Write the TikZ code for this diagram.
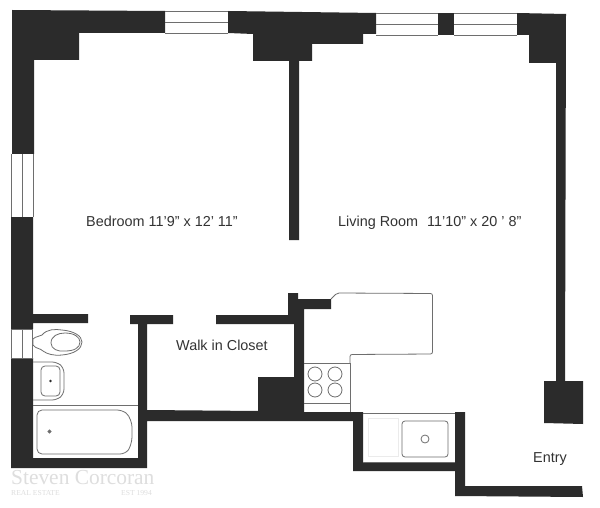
\documentclass[tikz,border=0pt]{standalone}
\usepackage{fontspec}
\setmainfont{Liberation Sans}
\newfontfamily\wmfont{Liberation Serif}
\definecolor{wallc}{HTML}{2B2B2B}
\definecolor{linec}{HTML}{6E6E6E}
\tikzset{
  wallfill/.style={fill=wallc,draw=none},
  fixture/.style={draw=linec,line width=0.8pt},
  winline/.style={draw=linec,line width=0.8pt},
  lab/.style={text=black!80,font=\fontsize{14.4}{16}\selectfont,inner sep=0pt,anchor=base west},
  wm/.style={text=black!13,inner sep=0pt,anchor=base west}
}
\begin{document}
\begin{tikzpicture}[x=1pt,y=-1pt]
\useasboundingbox (0,0) rectangle (600,508);
\fill[white] (0,0) rectangle (600,508);
% top-left corner and left wall
\fill[wallfill] (12,10) -- (165,11) -- (165,33) -- (79,33) -- (79,60) -- (34,60) -- (34,154) -- (12,154) -- cycle;
\fill[wallfill] (11,217) -- (33,217) -- (33,314) -- (88,314) -- (88,323) -- (33,323) -- (33,329) -- (11,329) -- cycle;
\fill[wallfill] (11,358) -- (33,358) -- (33,458) -- (138,458) -- (138,324) -- (130,324) -- (130,315) -- (173,315) -- (173,324) -- (147,324) -- (147,410) -- (258,411) -- (258,377) -- (294,377) -- (294,324) -- (216,324) -- (216,315) -- (288,315) -- (288,293) -- (298,293) -- (298,299) -- (331,299) -- (331,309) -- (304,309) -- (304,412) -- (363,412) -- (363,462) -- (455,462) -- (455,412) -- (465,412) -- (465,486) -- (582,486) -- (583,497) -- (455,496) -- (455,471) -- (353,471) -- (353,421) -- (147,421) -- (147,468) -- (11,468) -- cycle;
% top centre block and partition
\fill[wallfill] (228,11) -- (376,13) -- (376,34) -- (363,34) -- (363,44) -- (312,44) -- (312,61) -- (299,61) -- (299,240) -- (289,240) -- (289,61) -- (253,61) -- (253,34) -- (228,33) -- cycle;
% pier
\fill[wallfill] (438,13) rectangle (454,35);
% top-right and right wall
\fill[wallfill] (517,13) -- (566,14) -- (565,381) -- (583,381) -- (583,424) -- (544,423) -- (544,381) -- (556,381) -- (556,63) -- (529,63) -- (529,35) -- (517,35) -- cycle;
% windows
\draw[winline] (165,11.5) -- (228,11.5) (165,22) -- (228,22) (165,33) -- (228,33);
\draw[winline] (376,13) -- (438,13) (376,24) -- (438,24) (376,35) -- (438,35);
\draw[winline] (454,13) -- (517,13) (454,24) -- (517,24) (454,35) -- (517,35);
\draw[winline] (11.5,154) -- (11.5,217) (22.5,154) -- (22.5,217) (33.5,154) -- (33.5,217);
\draw[winline] (11,329) -- (11,358) (22,329) -- (22,358) (32.5,329) -- (32.5,358);
\draw[winline] (11,329) -- (33,329) (11,358) -- (33,358);
% toilet
\draw[fixture] (33,339) .. controls (36,336) and (39,337) .. (42,335) .. controls (47,329) and (55,329) .. (62,330) .. controls (74,331) and (82,336) .. (82,342) .. controls (82,349) and (74,354) .. (62,355) .. controls (54,356) and (47,354) .. (43,351) .. controls (40,348) and (36,349) .. (33,345) -- cycle;
\draw[fixture] (51,343) .. controls (51,336) and (58,333) .. (65,333) .. controls (74,333) and (80,337) .. (80,342) .. controls (80,348) and (74,351) .. (65,351) .. controls (58,352) and (51,349) .. (51,343) -- cycle;
% bath sink
\draw[fixture,rounded corners=5pt] (33,362) -- (57,362) -- (64,368) -- (64,394) -- (57,400) -- (33,400);
\draw[fixture,rounded corners=4pt] (41,366) rectangle (60,396);
\fill[wallc] (50.5,381) circle (1.3);
\draw[fixture] (33,405) -- (138,405);
% tub
\draw[fixture,rounded corners=5pt] (37,410) -- (122,410) .. controls (130,416) and (132,424) .. (132,432) .. controls (132,441) and (130,448) .. (125,454) -- (37,454) -- cycle;
\draw[fixture,fill=linec] (49.5,431.5) circle (1.5);
% kitchen counter
\draw[fixture,rounded corners=2pt] (331,299) -- (337,293) -- (432.5,293.5) -- (432.5,354) -- (350,354.5) -- (350,363);
\draw[fixture] (350,363) -- (350,412) (304,363) -- (350,363) (304,403) -- (350,403);
\foreach \px/\py in {315/374,335/374,315/390,335/390}{\draw[fixture] (\px,\py) circle (7);}
\draw[fixture] (363,413) -- (455,413) (363,462) -- (455,462);
\draw[fixture,rounded corners=3pt] (402,421) rectangle (448,457);
\draw[fixture] (425,439) circle (4);
\draw[draw=black!8,line width=0.5pt] (368,418) rectangle (398,456);
% labels
\node[lab] (bedroom) at (86,226) {Bedroom 11'9" x 12' 11"};
\node[lab] (living) at (338,226) {Living Room\hspace{5pt} 11'10" x 20 ' 8"};
\node[lab] (closet) at (176,350) {Walk in Closet};
\node[lab] (entry) at (533,462) {Entry};
% watermark
\node[wm,font=\wmfont\fontsize{21.4}{21}\selectfont] (wmname) at (11,484) {Steven Corcoran};
\node[wm,font=\wmfont\fontsize{7.6}{8}\selectfont] (wmre) at (11,495.5) {REAL ESTATE};
\node[wm,font=\wmfont\fontsize{7.6}{8}\selectfont] (wmest) at (121,495.5) {EST 1994};
\end{tikzpicture}
\end{document}
